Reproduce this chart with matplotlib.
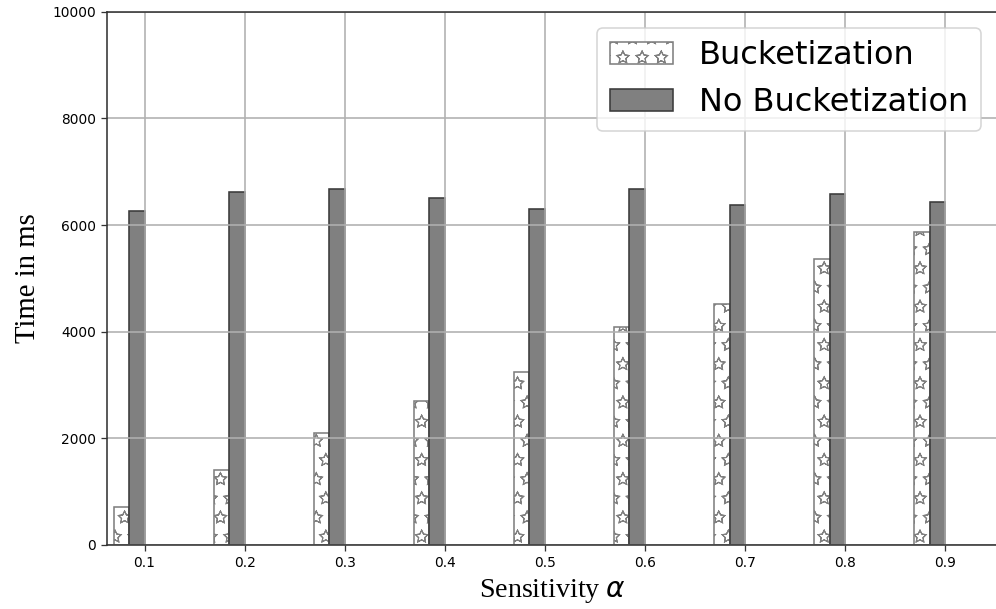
import matplotlib
matplotlib.use("Agg")
import matplotlib.pyplot as plt
import matplotlib.hatch as mhatch
from matplotlib.path import Path
import numpy as np

# sensitivity values and timings (ms)
alphas = [0.1, 0.2, 0.3, 0.4, 0.5, 0.6, 0.7, 0.8, 0.9]
bucket_ms = [718, 1406, 2094, 2706, 3250, 4094, 4513, 5357, 5863]
no_bucket_ms = [6268, 6613, 6670, 6512, 6295, 6670, 6370, 6576, 6426]


class OutlineStars(mhatch.Shapes):
    """'*' hatch drawn as hollow star outlines (stroke only)."""
    size = 1.0 / 3.0
    filled = True

    def __init__(self, hatch, density):
        self.num_rows = hatch.count('*') * density
        star = Path.unit_regular_star(5)
        # outer path plus its reverse cancels the fill, leaving the stroke
        self.shape_vertices = np.concatenate([star.vertices, star.vertices[::-1]])
        self.shape_codes = np.concatenate([star.codes, star.codes])
        super().__init__(hatch, density)


mhatch._hatch_types[mhatch._hatch_types.index(mhatch.Stars)] = OutlineStars
plt.rcParams["hatch.linewidth"] = 0.7

DPI = 115
fig = plt.figure(figsize=(997 / DPI, 609 / DPI), dpi=DPI)
ax = fig.add_axes([107 / 997, 64 / 609, 890 / 997, 533.3 / 609])

x = np.array(alphas)
w = 0.0153
ax.bar(x - 1.5 * w, bucket_ms, width=w, color="white", edgecolor="gray",
       hatch="*", linewidth=1, label="Bucketization")
ax.bar(x - 0.5 * w, no_bucket_ms, width=w, color="gray", edgecolor="#3a3a3a",
       linewidth=1, label="No Bucketization")

ax.set_xlim(0.0625, 0.952)
ax.set_ylim(0, 10000)
ax.set_xticks(alphas)
ax.set_xticklabels([f"{a:.1f}" for a in alphas])
ax.set_yticks(range(0, 10001, 2000))
ax.tick_params(labelsize=8.6, colors="#333333", labelcolor="black")
ax.grid(True, color="#b0b0b0", linewidth=1.0)

for s in ax.spines.values():
    s.set_color("#333333")
    s.set_linewidth(1.0)

ax.set_xlabel(r"Sensitivity $\alpha$", family="Liberation Serif", fontsize=17.5)
ax.set_ylabel("Time in ms", family="Liberation Serif", fontsize=18, labelpad=7)

ax.legend(loc="upper right", fontsize=20)

fig.savefig("out.png", dpi=DPI)
